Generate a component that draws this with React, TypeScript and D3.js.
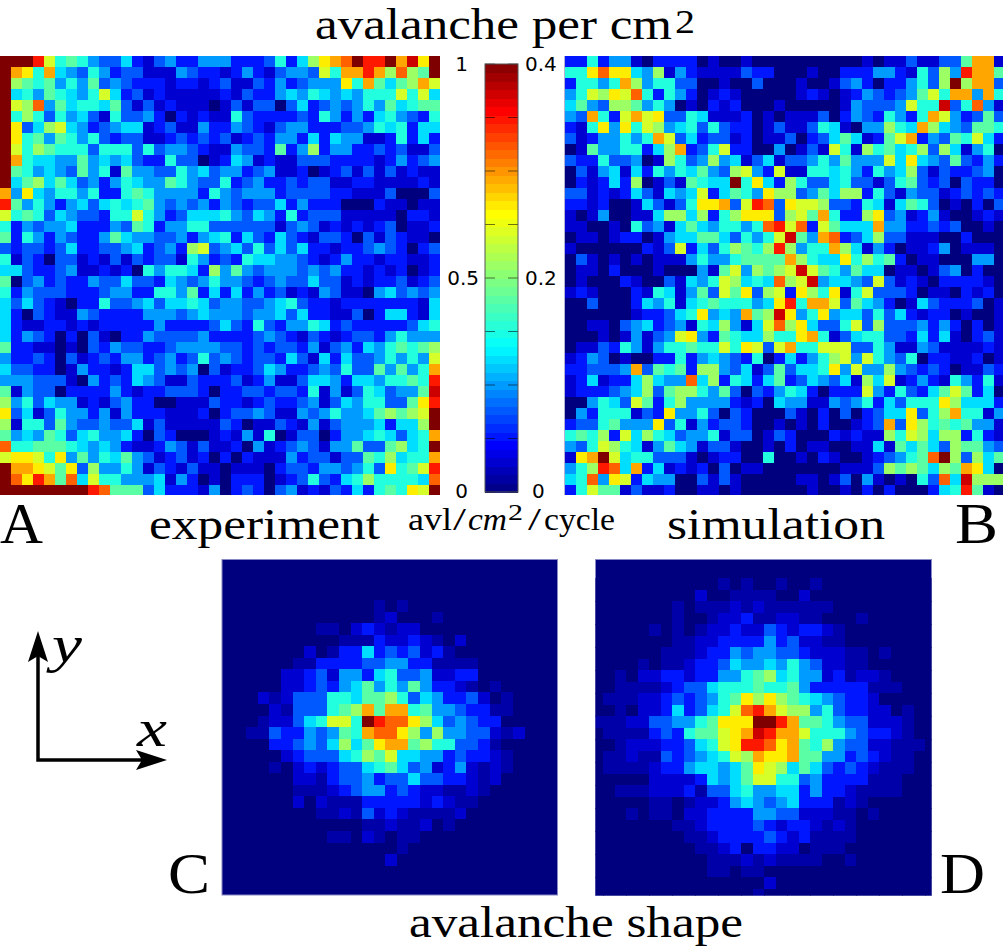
import * as d3 from "d3";

// cell levels: 0-f are steps of the colour range, x = barely above zero
const experimentRows = [
  "fffd9676433521342244 4222362 58abcfddfbeaf",
  "fba6b543642331114322 12421344396bbdb8c87f",
  "f8767464734322212212 31132423444a6b7578b9",
  "f5647654695231211111 21322454654546669695",
  "f98c4756657313121110 13133035234346475677",
  "f6863645316334202121 16322223264242564326",
  "fa358954234551231142 24321344222334656255",
  "fa674764632331123232 31232442525441126252",
  "f9687666366636344321 14332724824422323113",
  "fb655447454532263301 25412113332222124234",
  "f7645437461744336453 44234112012313131211",
  "f5785753424654476433 62342232331122111121",
  "b4a54664622676444426 43444233332211130003",
  "d7464245356567434342 43233524222000211011",
  "96763543326696423555 64354262333111110221",
  "62434452224376244663 33333134312121230112",
  "72642432247544334245 62532532133203132110",
  "32332352233452342893 45363535221223432023",
  "61320331213132331642 32655443212422122112",
  "55322341121206466528 47434443434221212012",
  "70342322433533254346 44323433533121223123",
  "62433322234422664725 25242312143110453434",
  "53532102263345355653 44334563221222222215",
  "52032114322224443454 44344535221130255215",
  "52112212122222422223 53263244652322222356",
  "52432020310224333342 22234321321233246444",
  "72211010324332234444 33232332413425467678",
  "42232031232442342363 43233253152533464649",
  "53322014221255343403 1223542234363374746b",
  "44433310423254311322 2312411355425546676d",
  "71433022224212233320 2233233261413653447e",
  "84635441213422001113 2212322341354663 37ad",
  "a3513644241422211120 2334311434644578789f",
  "81663743343351311111 3201132141344452558f",
  "74547635644520320001 2141601330244565356b",
  "c6677765454211243131 1204123431447337856f",
  "9aa96a47465743123120 2021114233133768566b",
  "fbba97a3844641321311 0111023324434 63a679d",
  "fcadb7c5966444514201 0222012363256866665c",
  "ffffffffdc7773522214 0232034121325267 6a9f",
];

const simulationRows = [
  "2 2 6 2 4 4 1 0 2 2 2 2 0 1 0 0 1 0 0 0 0 0 0 0 0 0 0 1 0 1 1 3 1 1 3 3 7 b b 1",
  "6 6 a c a a 5 4 8 1 4 2 1 1 1 1 3 2 2 0 0 0 1 0 0 2 2 2 4 4 2 1 6 3 8 4 d b b 7",
  "2 6 6 4 6 b 8 4 6 6 3 3 0 0 1 0 0 3 0 0 0 1 0 0 1 3 4 2 0 2 2 4 6 3 8 f 8 b b 3",
  "4 6 9 8 a 9 c 6 2 6 4 2 0 1 2 1 0 0 0 0 0 1 2 1 0 1 2 4 3 2 3 4 7 9 6 b b 4 b 6",
  "5 7 4 3 8 8 7 4 6 4 0 1 0 2 1 2 0 0 0 1 0 0 0 0 0 1 4 3 3 3 4 9 6 6 e 3 6 c 4 1",
  "4 3 b 6 2 9 b 9 a 3 3 6 5 1 1 1 2 0 1 0 1 1 1 3 0 2 4 3 2 6 4 2 6 b 9 4 2 3 7 3",
  "2 1 6 a 4 a 6 9 8 4 5 6 3 6 3 2 2 0 1 3 1 1 3 6 5 1 0 4 4 8 6 5 b 8 5 4 3 7 7 6",
  "3 1 2 4 4 6 4 6 b 9 3 5 2 3 3 1 2 0 1 1 3 0 2 3 5 7 5 1 2 7 9 b 2 4 3 7 6 9 5 2",
  "0 1 7 4 4 6 6 2 5 8 b 2 3 6 9 2 2 0 0 4 0 1 3 1 9 6 1 8 6 7 5 6 8 3 8 5 1 4 6 0",
  "3 2 2 6 3 3 4 0 1 8 6 3 4 8 4 5 1 3 5 1 3 3 4 6 4 7 4 4 4 9 5 a 5 4 3 7 3 2 4 2",
  "0 3 1 4 5 1 5 2 6 4 6 5 7 4 3 8 9 4 2 9 1 1 6 6 5 6 4 2 6 4 5 8 3 1 3 2 2 3 4 0",
  "0 2 1 2 5 2 8 0 1 3 1 7 6 5 5 f 6 a 5 2 8 6 3 3 5 6 3 3 1 3 6 7 3 2 3 0 3 2 2 0",
  "3 3 1 2 1 2 5 3 1 5 4 5 9 2 5 7 6 4 a 8 8 3 4 7 5 8 8 2 6 3 1 4 3 3 1 2 3 2 3 2",
  "2 2 1 2 0 0 1 5 3 1 3 6 a a b 3 9 d c 3 a 9 9 8 3 3 2 6 5 1 5 7 6 3 0 1 0 2 0 3",
  "1 0 1 4 0 0 1 1 5 8 8 5 8 2 6 8 a a a 3 8 9 7 b 6 2 2 8 a 3 4 1 2 4 1 0 0 1 2 1",
  "1 1 0 0 1 0 6 3 4 1 5 7 5 4 6 6 4 6 c d 9 c 2 9 7 5 5 5 b 4 4 2 2 3 2 3 0 0 1 0",
  "0 1 1 0 1 2 2 0 1 4 5 5 7 7 5 3 6 4 6 9 e 7 4 b c 2 3 5 8 3 3 1 1 1 0 0 2 0 0 0",
  "1 0 0 0 0 0 0 2 1 3 9 2 5 3 6 8 7 6 8 d 8 4 6 6 b 8 5 1 4 2 0 1 1 2 4 0 1 1 1 0",
  "0 3 1 0 1 0 1 0 1 1 1 4 6 4 4 6 7 7 7 7 b 8 6 5 5 a 6 8 6 7 2 0 1 1 0 0 0 4 4 0",
  "0 1 1 0 2 0 0 0 1 0 0 0 4 1 7 9 4 8 7 8 9 e 9 7 6 4 7 5 5 0 1 1 0 1 3 4 0 2 0 0",
  "0 1 0 0 0 2 1 0 0 3 1 5 4 6 9 8 5 6 5 c 8 9 e 4 5 5 4 3 9 3 1 2 1 0 2 2 2 2 1 0",
  "1 2 1 0 0 0 2 1 6 5 1 4 7 3 9 7 a 3 8 9 2 a 8 6 a 1 6 9 3 3 3 2 0 1 1 0 2 1 2 0",
  "0 0 3 0 0 0 2 5 4 6 1 5 6 7 6 6 6 4 5 a d 6 b b 9 3 7 5 4 2 0 1 5 3 2 2 2 3 0 1",
  "0 0 0 0 0 0 1 2 2 3 5 6 a 4 5 4 b 7 8 e a 4 6 a 4 5 5 3 6 3 5 2 1 2 2 0 1 0 0 1",
  "0 0 1 1 0 3 4 5 2 3 4 1 6 5 8 4 1 5 9 c 8 a 5 3 3 6 9 3 8 3 3 3 4 2 4 2 0 2 0 1",
  "0 0 0 1 0 1 4 1 3 4 9 a 4 2 7 6 5 5 8 6 6 a b 6 1 3 5 6 6 3 3 2 5 2 5 1 0 2 3 1",
  "0 1 1 3 2 6 4 1 4 6 6 7 6 6 9 6 a 9 3 9 b 6 6 9 9 9 3 3 6 4 1 1 4 3 1 1 1 1 2 1",
  "1 2 4 3 0 1 0 0 2 2 6 2 4 5 4 3 2 6 0 2 5 2 4 6 8 9 4 9 6 4 3 6 0 2 2 1 1 2 0 1",
  "2 2 3 3 3 4 b 3 7 6 7 2 8 8 4 3 5 1 3 7 3 5 5 6 a 4 9 4 4 8 4 3 2 3 2 0 1 1 3 2",
  "1 2 5 1 2 2 5 8 5 4 4 c 5 8 2 6 5 2 5 7 2 3 5 4 3 5 1 8 5 9 1 2 4 2 1 6 4 2 6 1",
  "1 2 2 2 3 4 5 8 3 7 8 8 6 4 7 3 0 3 2 4 6 5 2 0 2 2 2 9 4 2 6 3 2 5 7 9 7 2 5 0",
  "0 0 4 6 5 3 9 7 2 6 8 4 4 4 4 2 1 2 0 5 4 4 1 1 4 3 4 6 2 5 3 6 6 6 a 8 5 5 5 2",
  "0 4 2 6 6 6 1 3 2 a 4 4 6 3 0 3 2 0 0 0 3 1 0 2 0 3 0 2 3 5 5 a 3 6 8 b 6 6 1 4",
  "2 3 3 6 7 4 4 4 a 3 6 1 4 2 3 3 2 0 0 1 0 1 0 2 0 0 1 2 3 b 3 a 8 6 7 6 7 4 4 1",
  "6 7 6 8 2 9 5 8 6 5 3 4 4 6 1 3 3 0 1 3 2 0 0 0 2 1 2 1 1 8 6 9 8 5 8 8 2 6 2 1",
  "4 3 6 9 8 6 5 1 4 7 5 4 1 3 3 1 0 0 1 0 2 0 1 1 0 0 1 1 5 1 7 5 7 5 3 8 7 7 4 3",
  "1 a b f 9 5 6 6 3 3 3 1 0 1 2 2 0 0 6 0 0 1 0 2 1 0 0 1 2 3 4 6 7 c f 8 3 8 5 7",
  "4 6 8 d c 5 b 2 5 1 2 1 2 0 3 0 1 1 0 0 0 0 0 0 0 1 1 1 3 8 7 8 7 5 8 7 b a 5 0",
  "5 6 c 4 a 9 2 5 4 4 0 0 3 1 3 1 0 0 0 0 0 1 1 0 1 3 0 4 1 0 1 0 6 3 c 5 e 8 8 8",
  "2 6 9 7 7 1 3 1 1 2 0 0 1 1 0 1 0 0 0 0 0 0 1 0 0 1 0 2 0 2 0 0 0 2 5 6 d 7 1 0",
];

// only the part of the shape panels that is not plain background
const shapeExperimentRows = [
  "00000000000x0x0000000000",
  "00000000000x1000x0000000",
  "000000xx0121x11000000000",
  "00000000xxx21121x0100000",
  "0000010x225232312x000000",
  "0000xx2222334422xxxx0000",
  "000112314425633411220000",
  "0001123245746474221x0x00",
  "01x1333665778635422310x0",
  "001x333678b7bb6744322xx0",
  "0x11356996fdcca853432200",
  "xx32243476bcca84844331x1",
  "00223435857abb7866332x00",
  "0001233356879554423221x0",
  "00x01212335675341241x1x0",
  "000011x2334233533221x100",
  "0000xxx1234423211xx1x000",
  "0000101xxx22222121xx0000",
  "000000xx1x3121xxxx100000",
  "0000000000xx1xx10x000000",
  "0000000xx01x0xx000000000",
  "0000000000000x0000000000",
  "000000000000100000000000",
];

const shapeSimulationRows = [
  "00000000000x0x00x00x0000000000",
  "000000000100xxxx00100000000000",
  "0000000x0xxx1x1xxxxxx000000000",
  "0000000x00x112xx11xx000x000000",
  "00000x0x0x11211321221x00000000",
  "0000000xx11222242311xx00000000",
  "000000xxx1224344332111xx0x0000",
  "0000x0xx12235445464311xx000000",
  "00x0112212244678564412x11x0000",
  "00xxxx123356667667422222xxx000",
  "0xxx112323467a8a87654322100000",
  "00x0112523569cdb98846322110x00",
  "xxx11334467aaaffdb776433111x00",
  "0xxxx2326779abedbb966643221x00",
  "00x111223569addcab76843311xxx0",
  "0xx1xx32345698baab77442321xx00",
  "0xxxx122455457a9857532321xxx00",
  "000001111254579966342222xxx000",
  "00xxx1112x3356445524221xxxx000",
  "00000xx0x112454345222x1x000000",
  "000x0xx01122224433111xx0x00000",
  "0000000xx12222321221x1x0000000",
  "00000000xx122223212xxxx0000000",
  "000000000xx12022110xxx00000000",
  "0000000000xxx1x1xxxx00x0000000",
  "0000000000xx0xx000000000000000",
  "000000000000000100000000000000",
  "00000000000000x000000000000000",
];

const levelValues = [0, 0.07, 0.13, 0.19, 0.25, 0.31, 0.38, 0.45, 0.53, 0.6, 0.667, 0.733, 0.8, 0.867, 0.933, 1];
const leftTicks = [0, 0.5, 1];
const rightTicks = [0, 0.2, 0.4];
const colorSteps = d3.range(50);
const minorTicks = d3.range(9).map((i) => i / 8);

const parseRows = (rows: string[]) =>
  rows.map((row) =>
    row
      .replace(/\s/g, "")
      .split("")
      .map((c) => (c === "x" ? 0.035 : levelValues[parseInt(c, 16)]))
  );

// jet
const jet = d3
  .scaleLinear<string>()
  .domain([0, 0.11, 0.34, 0.65, 0.89, 1])
  .range(["#00007f", "#0000ff", "#00ffff", "#ffff00", "#ff0000", "#7f0000"])
  .clamp(true);

type HeatProps = {
  id: string;
  rows: string[];
  xRange: [number, number];
  yRange: [number, number];
  frame: [number, number, number, number];
  edge?: boolean;
};

const Heat = ({ id, rows, xRange, yRange, frame, edge }: HeatProps) => {
  const values = parseRows(rows);
  const nCols = values[0].length;
  const x = d3.scaleBand<number>().domain(d3.range(nCols)).range(xRange);
  const y = d3.scaleBand<number>().domain(d3.range(values.length)).range(yRange);
  return (
    <g>
      <clipPath id={id}>
        <rect x={frame[0]} y={frame[1]} width={frame[2]} height={frame[3]} />
      </clipPath>
      <rect
        x={frame[0]}
        y={frame[1]}
        width={frame[2]}
        height={frame[3]}
        fill="#00007f"
        stroke={edge ? "#8888c4" : "none"}
      />
      <g clipPath={`url(#${id})`} shapeRendering="crispEdges">
        {values.map((row, r) =>
          row.map((v, c) => (
            <rect
              key={`${r}-${c}`}
              x={x(c)}
              y={y(r)}
              width={x.bandwidth() + 0.5}
              height={y.bandwidth() + 0.5}
              fill={jet(v)}
            />
          ))
        )}
      </g>
    </g>
  );
};

const Colorbar = () => {
  const top = 64;
  const bottom = 492;
  const left = 485;
  const right = 518;
  const pos = d3.scaleLinear().domain([0, 1]).range([bottom, top]);
  const band = d3.scaleBand<number>().domain(colorSteps).range([bottom, top]);
  const leftScale = d3.scaleLinear().domain([0, 1]).range([bottom, top]);
  const rightScale = d3.scaleLinear().domain([0, 0.4]).range([bottom, top]);
  const sans = "DejaVu Sans";
  return (
    <g>
      <g shapeRendering="crispEdges">
        {colorSteps.map((s) => (
          <rect
            key={s}
            x={left}
            y={band(s)}
            width={right - left}
            height={band.bandwidth() + 0.5}
            fill={jet((s + 0.5) / colorSteps.length)}
          />
        ))}
      </g>
      {minorTicks.map((t) => (
        <g key={t} stroke="#000" strokeOpacity={0.55} strokeWidth={1}>
          <line x1={left} x2={left + 10} y1={pos(t)} y2={pos(t)} />
          <line x1={right - 10} x2={right} y1={pos(t)} y2={pos(t)} />
        </g>
      ))}
      <rect x={left} y={top} width={right - left} height={bottom - top} fill="none" stroke="#555" strokeWidth={1} />
      {leftTicks.map((t) => (
        <text
          key={t}
          x={479}
          y={leftScale(t) + (t === 0 ? 6 : 7)}
          dx={t === 0.5 ? 0 : -11}
          textAnchor="end"
          fontFamily={sans}
          fontSize={20}
        >
          {String(t)}
        </text>
      ))}
      {rightTicks.map((t) => (
        <text
          key={t}
          x={525}
          y={rightScale(t) + (t === 0 ? 6 : 7)}
          dx={t === 0 ? 7 : 0}
          fontFamily={sans}
          fontSize={20}
        >
          {String(t)}
        </text>
      ))}
    </g>
  );
};

const serif = "Liberation Serif";

const Label = ({ x, y, w, size, italic, children }: any) => (
  <text
    x={x}
    y={y}
    fontFamily={serif}
    fontSize={size}
    fontStyle={italic ? "italic" : "normal"}
    textLength={w}
    lengthAdjust="spacingAndGlyphs"
    fill="#000"
  >
    {children}
  </text>
);

export default function App() {
  return (
    <svg
      width={1003}
      height={948}
      viewBox="0 0 1003 948"
      style={{ position: "absolute", left: 0, top: 0, background: "#fff" }}
    >
      <Heat id="a" rows={experimentRows} xRange={[0, 440]} yRange={[56, 496]} frame={[0, 56, 440, 439]} />
      <Heat id="b" rows={simulationRows} xRange={[564.7, 1004.7]} yRange={[56, 496]} frame={[564.7, 56, 440, 439]} />
      <Heat
        id="c"
        rows={shapeExperimentRows}
        xRange={[246.3, 524.3]}
        yRange={[600, 865.7]}
        frame={[222, 559.5, 335.5, 335.5]}
        edge
      />
      <Heat
        id="d"
        rows={shapeSimulationRows}
        xRange={[591.7, 936.7]}
        yRange={[578, 900]}
        frame={[595.5, 559.5, 336, 336]}
        edge
      />
      <Colorbar />

      <Label x={315} y={39} w={357} size={44}>avalanche per cm</Label>
      <Label x={675} y={33} w={20} size={34}>2</Label>

      <Label x={408} y={530} w={44} size={31}>avl</Label>
      <Label x={453} y={530} w={13} size={31}>/</Label>
      <Label x={468} y={530} w={39} size={31} italic>cm</Label>
      <Label x={508} y={520} w={15} size={23}>2</Label>
      <Label x={528} y={530} w={13} size={31}>/</Label>
      <Label x={544} y={530} w={71} size={31}>cycle</Label>

      <Label x={149} y={539} w={231} size={44}>experiment</Label>
      <Label x={667} y={539} w={218} size={44}>simulation</Label>
      <Label x={409} y={937} w={334} size={44}>avalanche shape</Label>

      <Label x={0} y={543} w={43} size={58}>A</Label>
      <Label x={955} y={543} w={43} size={58}>B</Label>
      <Label x={168} y={893} w={42} size={58}>C</Label>
      <Label x={940} y={893} w={45} size={58}>D</Label>

      <Label x={52} y={662} w={30} size={52} italic>y</Label>
      <Label x={137} y={746} w={30} size={52} italic>x</Label>

      <path d="M38 655V760H145" fill="none" stroke="#000" strokeWidth={3.5} />
      <path d="M38 631L48 662L38 656L28 662Z" fill="#000" />
      <path d="M167 760L136 750L142 760L136 770Z" fill="#000" />
    </svg>
  );
}
